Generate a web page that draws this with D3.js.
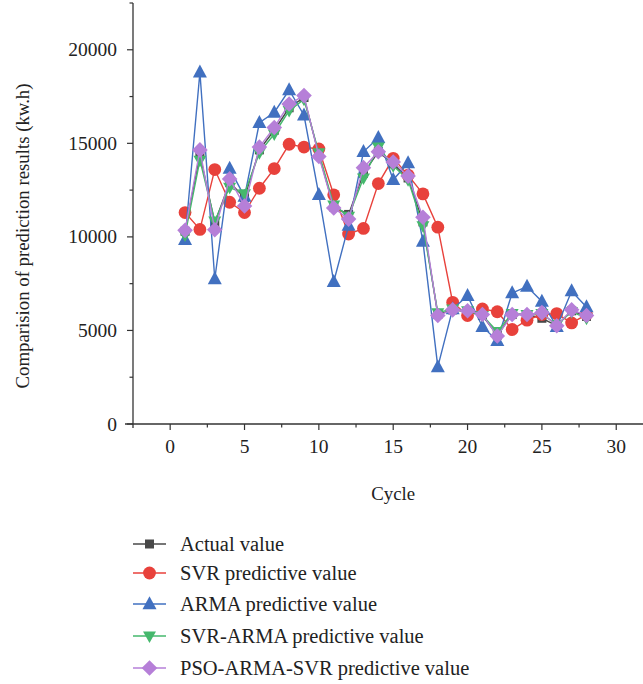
<!DOCTYPE html>
<html>
<head>
<meta charset="utf-8">
<script src="https://cdn.jsdelivr.net/npm/d3@7"></script>
<style>
  html, body { margin: 0; padding: 0; background: #fff; }
  svg { display: block; }
  text { font-family: "Liberation Serif", "DejaVu Serif", serif; fill: #222; }
</style>
</head>
<body>
<svg id="chart" width="643" height="684"></svg>
<script>
// Cycle numbers
const cycles = d3.range(1, 29);

// Series values (kw.h)
const actualValues = [10300, 14400, 10750, 12900, 12100, 14650, 15700, 16900, 17450, 14400, 11600, 11200, 13400, 14550, 13900, 13150, 10800, 5850, 6100, 6000, 5800, 4750, 5850, 5850, 5650, 5250, 6050, 5750];
const svrValues = [11300, 10400, 13600, 11850, 11300, 12600, 13650, 14950, 14800, 14700, 12250, 10150, 10450, 12850, 14200, 13300, 12300, 10520, 6500, 5800, 6150, 6000, 5050, 5550, 5850, 5900, 5400, 5850];
const armaValues = [9850, 18800, 7750, 13650, 12150, 16100, 16650, 17850, 16500, 12250, 7600, 10600, 14550, 15300, 13050, 13950, 9750, 3050, 6150, 6850, 5200, 4450, 7000, 7350, 6550, 5200, 7100, 6250];
const svrArmaValues = [10100, 14100, 10850, 12650, 12300, 14500, 15500, 16750, 17350, 14500, 11700, 11100, 13150, 14800, 13800, 13050, 10600, 5950, 6150, 6050, 5800, 4950, 5900, 5850, 5900, 5300, 6000, 5650];
const psoArmaSvrValues = [10350, 14650, 10380, 13100, 11650, 14800, 15850, 17100, 17550, 14300, 11550, 10950, 13700, 14550, 14000, 13250, 11050, 5800, 6100, 6050, 5850, 4700, 5850, 5850, 5950, 5250, 6100, 5800];

const seriesNames = ["Actual value", "SVR predictive value", "ARMA predictive value", "SVR-ARMA predictive value", "PSO-ARMA-SVR predictive value"];
const seriesColors = ["#484848", "#e8413b", "#4170c0", "#45b86c", "#b67fd8"];
const seriesShapes = ["square", "circle", "triangle", "triangleDown", "diamond"];

const xTicks = [0, 5, 10, 15, 20, 25, 30];
const yTicks = [0, 5000, 10000, 15000, 20000];

const series = [actualValues, svrValues, armaValues, svrArmaValues, psoArmaSvrValues].map((vals, i) => ({
  name: seriesNames[i], color: seriesColors[i], shape: seriesShapes[i],
  points: vals.map((v, j) => ({ x: cycles[j], y: v }))
}));

const svg = d3.select("#chart");
const plotLeft = 133, plotRight = 643, plotTop = 3, plotBottom = 424;

const x = d3.scaleLinear().domain([-2.5, 31.8]).range([plotLeft, plotRight]);
const y = d3.scaleLinear().domain([0, 22500]).range([plotBottom, plotTop]);

// Axes
const axisColor = "#333";
const tickFont = 19.5;
const xAxis = svg.append("g").attr("transform", `translate(0,${plotBottom})`);
xAxis.append("line").attr("x1", plotLeft - 8).attr("x2", plotRight).attr("y1", 0).attr("y2", 0)
  .attr("stroke", axisColor).attr("stroke-width", 1.3);
d3.range(0, 31, 2.5).forEach(t => {
  const major = t % 5 === 0;
  xAxis.append("line").attr("x1", x(t)).attr("x2", x(t)).attr("y1", 0).attr("y2", major ? 6 : 3.5)
    .attr("stroke", axisColor).attr("stroke-width", 1.2);
});
xAxis.selectAll("text.tick").data(xTicks).join("text")
  .attr("x", d => x(d)).attr("y", 28.5).attr("text-anchor", "middle")
  .attr("font-size", tickFont).text(d => d);

const yAxis = svg.append("g").attr("transform", `translate(${plotLeft},0)`);
yAxis.append("line").attr("x1", 0).attr("x2", 0).attr("y1", plotTop).attr("y2", plotBottom + 4)
  .attr("stroke", axisColor).attr("stroke-width", 1.3);
d3.range(0, 22501, 2500).forEach(t => {
  const major = t % 5000 === 0;
  yAxis.append("line").attr("x1", 0).attr("x2", major ? -6 : -3.5).attr("y1", y(t)).attr("y2", y(t))
    .attr("stroke", axisColor).attr("stroke-width", 1.2);
});
yAxis.selectAll("text.tick").data(yTicks).join("text")
  .attr("x", -16).attr("y", d => y(d) + 6.5).attr("text-anchor", "end")
  .attr("font-size", tickFont).text(d => d);

svg.append("text").attr("transform", `translate(29,236) rotate(-90)`)
  .attr("text-anchor", "middle").attr("font-size", 18.8)
  .text("Comparision of prediction results (kw.h)");
svg.append("text").attr("x", x(15)).attr("y", 500).attr("text-anchor", "middle")
  .attr("font-size", 18.8).text("Cycle");

// Marker shapes
function drawMarker(g, shape, cx, cy, color) {
  let el;
  if (shape === "circle") {
    el = g.append("circle").attr("cx", cx).attr("cy", cy).attr("r", 6.4);
  } else if (shape === "square") {
    el = g.append("rect").attr("x", cx - 4.5).attr("y", cy - 4.5).attr("width", 9).attr("height", 9);
  } else if (shape === "triangle") {
    el = g.append("path").attr("d", `M${cx},${cy - 7.8}L${cx + 7},${cy + 5.2}L${cx - 7},${cy + 5.2}Z`);
  } else if (shape === "triangleDown") {
    el = g.append("path").attr("d", `M${cx},${cy + 7}L${cx + 6.5},${cy - 4.5}L${cx - 6.5},${cy - 4.5}Z`);
  } else {
    el = g.append("path").attr("d", `M${cx},${cy - 7.8}L${cx + 7.8},${cy}L${cx},${cy + 7.8}L${cx - 7.8},${cy}Z`);
  }
  el.attr("fill", color);
}

const line = d3.line().x(d => x(d.x)).y(d => y(d.y));
const plot = svg.append("g");
series.forEach(s => {
  const g = plot.append("g");
  g.append("path").datum(s.points).attr("d", line)
    .attr("fill", "none").attr("stroke", s.color).attr("stroke-width", 1.4);
  s.points.forEach(p => drawMarker(g, s.shape, x(p.x), y(p.y), s.color));
});

// Legend
const legend = svg.append("g");
const legendY = [544, 573, 604, 636, 668];
series.forEach((s, i) => {
  const g = legend.append("g").attr("transform", `translate(0,${legendY[i]})`);
  g.append("line").attr("x1", 133).attr("x2", 166).attr("y1", 0).attr("y2", 0)
    .attr("stroke", s.color).attr("stroke-width", 1.4);
  drawMarker(g, s.shape, 149.5, 0, s.color);
  g.append("text").attr("x", 180).attr("y", 6.5).attr("font-size", 20.5).text(s.name);
});
</script>
</body>
</html>
